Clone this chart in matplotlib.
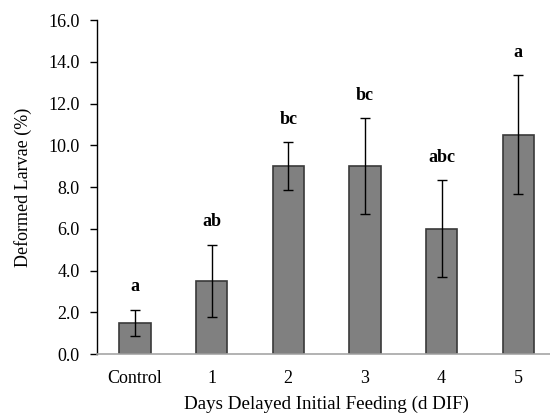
import matplotlib.pyplot as plt

categories = ['Control', '1', '2', '3', '4', '5']
means = [1.5, 3.5, 9.0, 9.0, 6.0, 10.5]
errors = [0.62, 1.73, 1.14, 2.3, 2.33, 2.85]
letters = ['a', 'ab', 'bc', 'bc', 'abc', 'a']

plt.rcParams['font.family'] = ['Liberation Serif', 'DejaVu Serif']

fig = plt.figure(figsize=(5.5, 4.17), dpi=100)
ax = fig.add_axes([0.1755, 0.151, 0.8365, 0.801])

x = range(len(categories))
ax.bar(x, means, width=0.41, color='#808080', edgecolor='#3a3a3a', linewidth=1.2, zorder=2)
ax.errorbar(x, means, yerr=errors, fmt='none', ecolor='black', elinewidth=1.0,
            capsize=3.3, capthick=1.0, zorder=3)

for i, (m, e, lab) in enumerate(zip(means, errors, letters)):
    ax.text(i, m + e + 1.1, lab, ha='center', va='center', fontsize=13, fontweight='bold')

ax.set_xlim(-0.5, 5.5)
ax.set_ylim(0, 16)
ax.set_yticks([0, 2, 4, 6, 8, 10, 12, 14, 16])
ax.set_yticklabels([f'{v:.1f}' for v in range(0, 17, 2)])
ax.set_xticks(list(x))
ax.set_xticklabels(categories)

ax.spines['top'].set_visible(False)
ax.spines['right'].set_visible(False)
ax.spines['bottom'].set_color('#a6a6a6')
ax.spines['bottom'].set_linewidth(1.2)
ax.spines['left'].set_color('black')
ax.spines['left'].set_linewidth(1.0)

ax.tick_params(axis='y', direction='out', length=5, width=1, labelsize=13, pad=7)
ax.tick_params(axis='x', length=0, labelsize=13, pad=11.5)

ax.set_ylabel('Deformed Larvae (%)', fontsize=13, labelpad=12)
ax.set_xlabel('Days Delayed Initial Feeding (d DIF)', fontsize=13.7, labelpad=6.5)

fig.savefig('out.png', dpi=100)
